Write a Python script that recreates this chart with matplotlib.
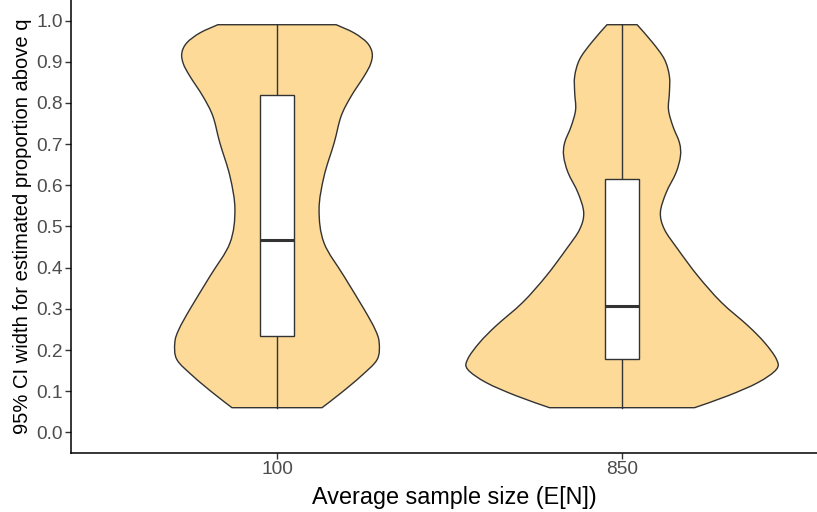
import numpy as np
import matplotlib
matplotlib.use("Agg")
import matplotlib.pyplot as plt
from matplotlib.path import Path
from matplotlib.patches import PathPatch

plt.rcParams['font.family'] = ['Liberation Sans', 'DejaVu Sans']

# groups on the x axis
categories = ["100", "850"]

# violin outlines: y levels and relative density (1.0 = widest violin)
v100_y = [0.990, 0.970, 0.946, 0.921, 0.895, 0.865, 0.816, 0.768, 0.703, 0.622,
          0.541, 0.460, 0.379, 0.299, 0.250, 0.218, 0.177, 0.137, 0.096, 0.060]
v100_d = [0.381, 0.497, 0.581, 0.613, 0.603, 0.561, 0.477, 0.413, 0.368, 0.303,
          0.271, 0.303, 0.432, 0.561, 0.632, 0.658, 0.645, 0.542, 0.413, 0.290]

v850_y = [0.990, 0.946, 0.906, 0.865, 0.825, 0.784, 0.744, 0.703, 0.671, 0.631,
          0.582, 0.534, 0.493, 0.445, 0.380, 0.316, 0.259, 0.218, 0.178, 0.153,
          0.121, 0.089, 0.060]
v850_d = [0.097, 0.198, 0.273, 0.305, 0.305, 0.299, 0.327, 0.370, 0.376, 0.348,
          0.284, 0.247, 0.273, 0.359, 0.488, 0.639, 0.811, 0.918, 0.994, 0.994,
          0.875, 0.682, 0.467]

# boxplot stats: min, q1, median, q3, max
box100 = [0.060, 0.235, 0.467, 0.820, 0.990]
box850 = [0.060, 0.179, 0.307, 0.616, 0.990]

fill = "#FDDA98"
edge = "#333333"


def smooth_side(pts):
    """Bezier (Catmull-Rom) segments through the given points, without the first MOVETO."""
    pts = np.asarray(pts, dtype=float)
    n = len(pts)
    verts, codes = [], []
    for i in range(n - 1):
        p0 = pts[max(i - 1, 0)]
        p1 = pts[i]
        p2 = pts[i + 1]
        p3 = pts[min(i + 2, n - 1)]
        c1 = p1 + (p2 - p0) / 6.0
        c2 = p2 - (p3 - p1) / 6.0
        verts += [c1, c2, p2]
        codes += [Path.CURVE4] * 3
    return verts, codes


def violin_path(pos, vy, vd):
    left = np.column_stack([pos - vd, vy])
    right = np.column_stack([pos + vd, vy])[::-1]
    verts = [left[0]]
    codes = [Path.MOVETO]
    v, c = smooth_side(left)
    verts += v
    codes += c
    verts.append(right[0])
    codes.append(Path.LINETO)
    v, c = smooth_side(right)
    verts += v
    codes += c
    verts.append(left[0])
    codes.append(Path.CLOSEPOLY)
    return Path(verts, codes)


fig = plt.figure(figsize=(8.17, 5.12), dpi=100)
ax = fig.add_axes([71 / 817, 59 / 512, 746 / 817, 453 / 512])

violins = [(v100_y, v100_d), (v850_y, v850_d)]
boxes = [box100, box850]
half = 0.45   # ggplot violin width 0.9
bw = 0.05     # boxplot half width

for i, ((vy, vd), b) in enumerate(zip(violins, boxes)):
    pos = i + 1
    vy = np.array(vy)[::-1]
    vd = np.array(vd)[::-1] * half
    ax.add_patch(PathPatch(violin_path(pos, vy, vd), facecolor=fill,
                           edgecolor=edge, lw=1.0, zorder=1, joinstyle="round"))

    mn, q1, med, q3, mx = b
    ax.plot([pos, pos], [q3, mx], color=edge, lw=1.0, zorder=3)
    ax.plot([pos, pos], [mn, q1], color=edge, lw=1.0, zorder=3)
    ax.add_patch(plt.Rectangle((pos - bw, q1), 2 * bw, q3 - q1,
                               facecolor="white", edgecolor=edge, lw=1.0, zorder=4))
    ax.plot([pos - bw, pos + bw], [med, med], color=edge, lw=2.2, zorder=5,
            solid_capstyle="butt")

ax.set_xlim(0.403, 2.565)
ax.set_ylim(-0.05, 1.05)
ax.set_xticks([1, 2])
ax.set_xticklabels(categories)
ax.set_yticks(np.arange(0, 1.01, 0.1))
ax.set_yticklabels([f"{v:.1f}" for v in np.arange(0, 1.01, 0.1)])

for s in ["top", "right"]:
    ax.spines[s].set_visible(False)
for s in ["left", "bottom"]:
    ax.spines[s].set_linewidth(1.1)
    ax.spines[s].set_color("black")

ax.tick_params(axis="both", length=4, width=1.0, color="#333333",
               labelcolor="#4D4D4D", labelsize=13.8, pad=2)

ax.set_xlabel("Average sample size (E[N])", fontsize=16.8, color="black")
ax.xaxis.set_label_coords((454.5 - 71) / 746, -0.072)
ax.set_ylabel("95% CI width for estimated proportion above q", fontsize=14.5,
              color="black", labelpad=3)

fig.savefig("out.png", dpi=100)
